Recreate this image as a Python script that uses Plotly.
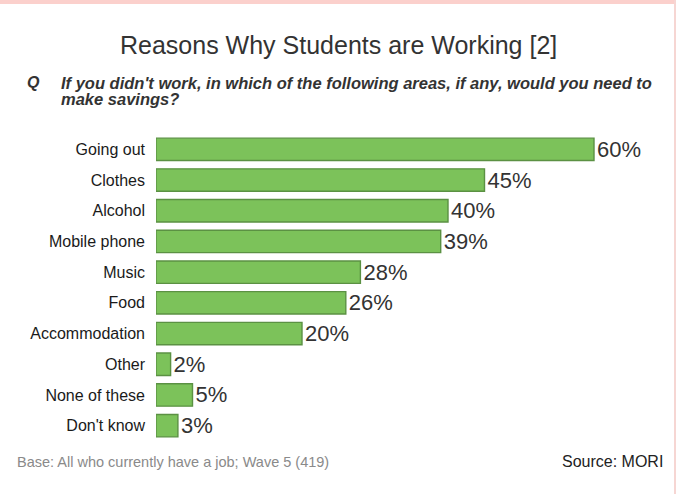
import plotly.graph_objects as go

# Survey answers, top to bottom
categories = ["Going out", "Clothes", "Alcohol", "Mobile phone", "Music", "Food",
              "Accommodation", "Other", "None of these", "Don't know"]
percentages = [60, 45, 40, 39, 28, 26, 20, 2, 5, 3]
value_labels = [f"{v}%" for v in percentages]

title_text = "Reasons Why Students are Working [2]"
question_lines = ["If you didn't work, in which of the following areas, if any, would you need to",
                  "make savings?"]
base_note = "Base: All who currently have a job; Wave 5 (419)"
source_note = "Source: MORI"

FONT = "Liberation Sans, Arial, Helvetica, sans-serif"

PAGE_W, PAGE_H = 676, 494
M_L, M_R, M_T, M_B = 156, 9, 134, 53
PLOT_W = PAGE_W - M_L - M_R
PLOT_H = PAGE_H - M_T - M_B


def px_to_paper(x, y):
    """Convert page pixels (top-left origin) to paper coordinates."""
    return (x - M_L) / PLOT_W, (PAGE_H - M_B - y) / PLOT_H


fig = go.Figure(
    go.Bar(
        x=percentages,
        y=categories,
        orientation="h",
        width=0.73,
        marker=dict(color="#7cc25a", line=dict(color="#5b9143", width=1.4)),
        text=value_labels,
        textposition="outside",
        textfont=dict(family=FONT, size=22, color="#333333"),
        cliponaxis=False,
        constraintext="none",
    )
)

fig.update_layout(
    width=PAGE_W,
    height=PAGE_H,
    margin=dict(l=M_L, r=M_R, t=M_T, b=M_B),
    paper_bgcolor="#ffffff",
    plot_bgcolor="#ffffff",
    showlegend=False,
    xaxis=dict(range=[0, 70], visible=False, fixedrange=True),
    yaxis=dict(
        categoryorder="array",
        categoryarray=categories[::-1],
        showgrid=False,
        showline=False,
        zeroline=False,
        ticks="",
        ticklabelstandoff=10,
        tickfont=dict(family=FONT, size=16, color="#1a1a1a"),
    ),
    font=dict(family=FONT),
)

annotations = [
    dict(text=title_text, x=338, y=45, font=dict(size=25, color="#333333"), xanchor="center"),
    dict(text="<b><i>Q</i></b>", x=26, y=83, font=dict(size=16, color="#333333"), xanchor="left"),
    dict(text=f"<b><i>{question_lines[0]}</i></b>", x=60, y=83, font=dict(size=16.5, color="#333333"), xanchor="left"),
    dict(text=f"<b><i>{question_lines[1]}</i></b>", x=60, y=99, font=dict(size=16.5, color="#333333"), xanchor="left"),
    dict(text=base_note, x=16, y=462, font=dict(size=14.5, color="#8a8a8a"), xanchor="left"),
    dict(text=source_note, x=664, y=461, font=dict(size=16, color="#222222"), xanchor="right",
         bgcolor="#ffffff"),
]
for a in annotations:
    px, py = px_to_paper(a["x"], a["y"])
    fig.add_annotation(
        text=a["text"], x=px, y=py, xref="paper", yref="paper",
        xanchor=a["xanchor"], yanchor="middle", showarrow=False, font=a["font"],
        bgcolor=a.get("bgcolor"), borderpad=0,
    )

# Pink frame accents along the top and right edges of the page
x0, y0 = px_to_paper(0, 0)
x1, y1 = px_to_paper(PAGE_W, 4)
fig.add_shape(type="rect", xref="paper", yref="paper", x0=x0, x1=x1, y0=y1, y1=y0,
              fillcolor="#fbd0cc", line_width=0, layer="above")
x0, y0 = px_to_paper(674, 0)
x1, y1 = px_to_paper(PAGE_W, PAGE_H)
fig.add_shape(type="rect", xref="paper", yref="paper", x0=x0, x1=x1, y0=y1, y1=y0,
              fillcolor="#f6d6d3", line_width=0, layer="above")

fig.write_html("out.html")
